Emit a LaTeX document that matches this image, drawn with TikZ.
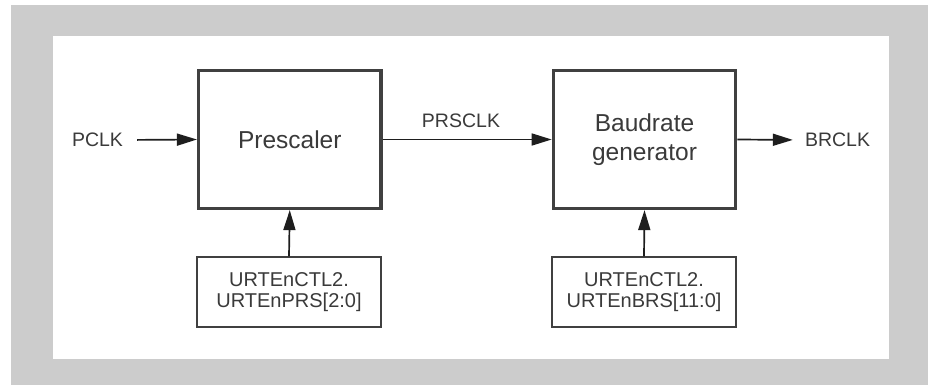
\documentclass[tikz,border=0pt]{standalone}
\usepackage{fontspec}
\setmainfont{Liberation Sans}
\usetikzlibrary{arrows.meta}
\definecolor{bggray}{HTML}{CCCCCC}
\definecolor{txtc}{HTML}{3A3A3A}
\definecolor{linec}{HTML}{404040}
\definecolor{arrc}{HTML}{1E1E1E}
\begin{document}
\begin{tikzpicture}[x=1pt,y=-1pt,
  bigbox/.style={draw=linec,line width=3.2pt,minimum width=182.5pt,minimum height=138pt,inner sep=0pt,
    text=txtc,font=\fontsize{24.5}{29}\selectfont,align=center},
  regbox/.style={draw=linec,line width=1.4pt,minimum width=184pt,minimum height=70pt,inner sep=0pt,
    text=txtc,font=\fontsize{20}{21}\selectfont,align=center},
  lbl/.style={text=txtc,font=\fontsize{19.5}{22}\selectfont,inner sep=0pt},
  conn/.style={draw=arrc,line width=1.7pt,-{Triangle[length=20pt,width=12pt]}}]
\useasboundingbox (0,0) rectangle (928,385);
\fill[white] (0,0) rectangle (928,385);
\fill[bggray] (11,5) rectangle (928,385);
\fill[white] (53,36) rectangle (889,359);

\node[bigbox] (pre) at (289.75,139.5) {Prescaler};
\node[bigbox] (baud) at (644.5,139.5) {Baudrate\\generator};
\node[regbox] (prereg) at (289,292) {URTEnCTL2.\\URTEnPRS[2:0]};
\node[regbox] (baudreg) at (644,292) {URTEnCTL2.\\URTEnBRS[11:0]};

\node[lbl] (pclk) at (97.5,140) {PCLK};
\node[lbl] (brclk) at (837.5,140) {BRCLK};
\node[lbl] (prsclk) at (461,121) {PRSCLK};

\draw[conn,shorten <=14pt] (pclk.east) -- (pre.west);
\draw[conn] (pre.east) -- (baud.west);
\draw[conn,shorten >=12pt] (baud.east) -- (brclk.west);
\draw[conn] (prereg.north) -- (pre.south);
\draw[conn] (baudreg.north) -- (baud.south);
\end{tikzpicture}
\end{document}
